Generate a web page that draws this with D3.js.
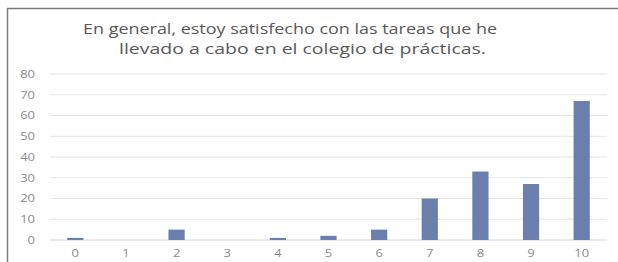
<!DOCTYPE html>
<meta charset="utf-8">
<script src="https://d3js.org/d3.v7.min.js"></script>
<style>
  body { margin: 0; background: #fff; }
</style>
<svg id="chart" width="618" height="262"></svg>
<script>
// data
var categories = ["0", "1", "2", "3", "4", "5", "6", "7", "8", "9", "10"];
var values = [1, 0, 5, 0, 1, 2, 5, 20, 33, 27, 67];
var yTicks = [0, 10, 20, 30, 40, 50, 60, 70, 80];
var titleLines = ["En general, estoy satisfecho con las tareas que he",
                  "llevado a cabo en el colegio de prácticas."];
var titleWidths = [414, 367];

var svg = d3.select("#chart");
var font = "'Open Sans', 'Noto Sans', sans-serif";
var stretch = 1.3; // the picture is a bit wider than tall, text looks stretched

// frame (top + left edge visible)
svg.append("line").attr("x1", 7).attr("x2", 618).attr("y1", 8.5).attr("y2", 8.5)
    .attr("stroke", "#7a7a7a").attr("stroke-width", 1.5);
svg.append("line").attr("x1", 7.5).attr("x2", 7.5).attr("y1", 8).attr("y2", 262)
    .attr("stroke", "#7a7a7a").attr("stroke-width", 1.5);

var x = d3.scaleBand().domain(categories).range([50, 607]).paddingInner(0.68).paddingOuter(0.34);
var y = d3.scaleLinear().domain([0, 80]).range([240, 74]);

// gridlines
svg.append("g").selectAll("line").data(yTicks).enter().append("line")
    .attr("x1", 50).attr("x2", 607)
    .attr("y1", function(d){ return y(d); }).attr("y2", function(d){ return y(d); })
    .attr("stroke", function(d){ return d === 0 ? "#d9d9d9" : "#e6e6e6"; })
    .attr("stroke-width", 1.2);

// bars
svg.append("g").selectAll("rect").data(values).enter().append("rect")
    .attr("x", function(d, i){ return x(categories[i]); })
    .attr("width", x.bandwidth())
    .attr("y", function(d){ return y(d); })
    .attr("height", function(d){ return y(0) - y(d); })
    .attr("fill", "#6a7fab");

// y labels
svg.append("g").selectAll("text").data(yTicks).enter().append("text")
    .attr("transform", function(d){ return "translate(35," + y(d) + ") scale(" + stretch + ",1)"; })
    .attr("text-anchor", "end").attr("dominant-baseline", "central")
    .style("font-family", font).style("font-size", "10px").style("fill", "#8c8c8c")
    .text(function(d){ return d; });

// x labels
svg.append("g").selectAll("text").data(categories).enter().append("text")
    .attr("transform", function(d){ return "translate(" + (x(d) + x.bandwidth() / 2) + ",253) scale(" + stretch + ",1)"; })
    .attr("text-anchor", "middle").attr("dominant-baseline", "central")
    .style("font-family", font).style("font-size", "10px").style("fill", "#8c8c8c")
    .text(function(d){ return d; });

// title, two lines stretched to the widths seen in the picture
svg.append("g").selectAll("text").data(titleLines).enter().append("text")
    .attr("x", function(d, i){ return i === 0 ? 83 : 119; })
    .attr("y", function(d, i){ return 28 + i * 20; })
    .attr("textLength", function(d, i){ return titleWidths[i]; })
    .attr("lengthAdjust", "spacingAndGlyphs")
    .attr("dominant-baseline", "central")
    .style("font-family", font).style("font-size", "14px").style("fill", "#595959")
    .text(function(d){ return d; });
</script>
